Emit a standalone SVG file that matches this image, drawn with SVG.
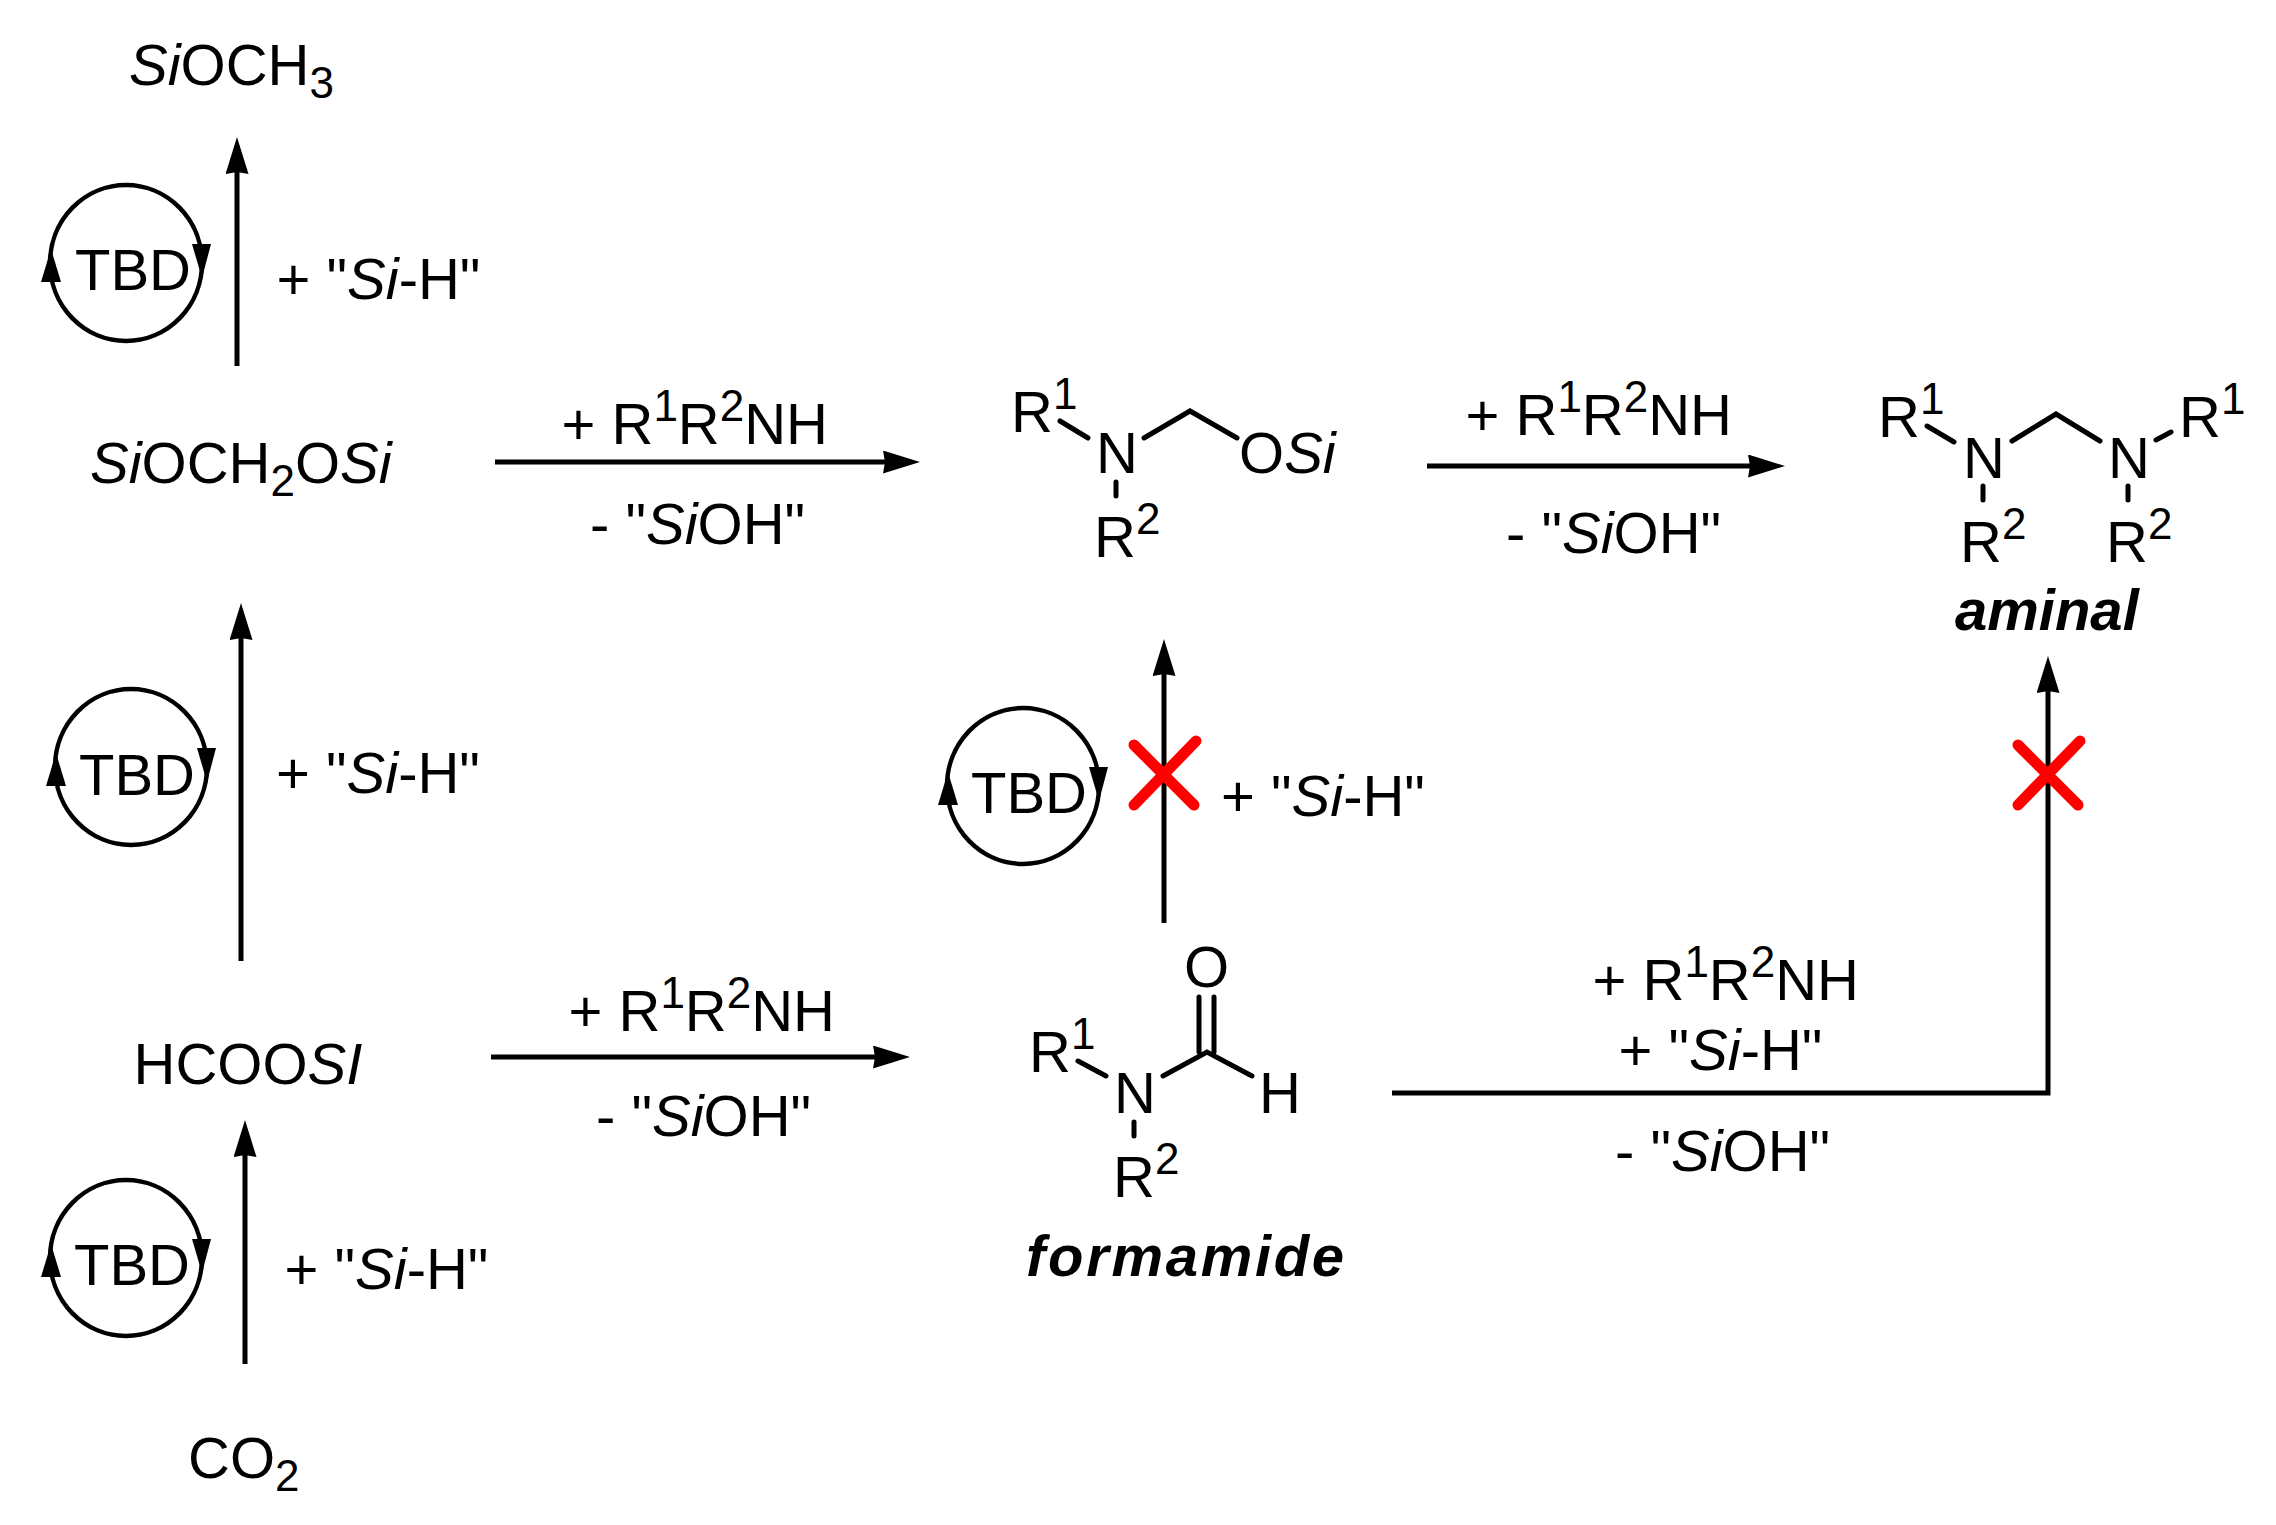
<svg xmlns="http://www.w3.org/2000/svg" width="2276" height="1525" viewBox="0 0 2276 1525">
<style>
text{font-family:"Liberation Sans",Arial,sans-serif;font-size:58px;fill:#000}
.b{font-weight:bold;font-style:italic;font-size:58px}
.i{font-style:italic}
.s{font-size:44px}
.c line,.c polyline{stroke:#000;stroke-width:5;fill:none}
.bond{stroke:#000;stroke-width:5;fill:none;stroke-linecap:round}
.ring{stroke:#000;stroke-width:4.5;fill:none}
.x{stroke:#f00;stroke-width:11;stroke-linecap:round;fill:none}
</style>
<defs>
<marker id="a" viewBox="0 0 37 23" refX="17" refY="11.5" markerWidth="37" markerHeight="23" markerUnits="userSpaceOnUse" orient="auto"><path d="M0 0L37 11.5L0 23L2 11.5Z" fill="#000"/></marker>
<g id="cyc"><ellipse class="ring" cx="0" cy="0" rx="76" ry="78"/><path d="M-75 -14L-65 19L-85 19Z" fill="#000"/><path d="M76 15L85 -19L66 -19Z" fill="#000"/></g>
</defs>
<g id="connectors" class="c">
<line x1="237" y1="366" x2="237" y2="157" marker-end="url(#a)"/>
<line x1="241" y1="961" x2="241" y2="623" marker-end="url(#a)"/>
<line x1="245" y1="1364" x2="245" y2="1140" marker-end="url(#a)"/>
<line x1="495" y1="462" x2="900" y2="462" marker-end="url(#a)"/>
<line x1="1427" y1="466" x2="1765" y2="466" marker-end="url(#a)"/>
<line x1="491" y1="1057" x2="890" y2="1057" marker-end="url(#a)"/>
<line x1="1164" y1="923" x2="1164" y2="659" marker-end="url(#a)"/>
<polyline points="1392,1093 2048,1093 2048,676" marker-end="url(#a)"/>
</g>
<g id="cross-1"><path class="x" d="M1134 745L1194 805M1196 741L1134 805"/></g>
<g id="cross-2"><path class="x" d="M2018 745L2078 805M2080 741L2018 805"/></g>
<g id="siocH3"><text x="129" y="85"><tspan class="i">Si</tspan>OCH<tspan class="s" dy="13">3</tspan></text></g>
<g id="tbd-1"><use href="#cyc" x="126" y="263"/><text x="75" y="290">TBD</text></g>
<g id="tbd-2"><use href="#cyc" x="131" y="767"/><text x="79" y="795">TBD</text></g>
<g id="tbd-3"><use href="#cyc" x="126" y="1258"/><text x="74" y="1285">TBD</text></g>
<g id="tbd-4"><use href="#cyc" x="1023" y="786"/><text x="971" y="813">TBD</text></g>
<g id="sih-labels">
<text x="276.500" y="299">+ "<tspan class="i">Si</tspan>-H"</text>
<text x="276" y="793">+ "<tspan class="i">Si</tspan>-H"</text>
<text x="284.500" y="1289">+ "<tspan class="i">Si</tspan>-H"</text>
<text x="1221" y="816">+ "<tspan class="i">Si</tspan>-H"</text>
</g>
<g id="siocH2osi"><text x="90" y="483"><tspan class="i">Si</tspan>OCH<tspan class="s" dy="13">2</tspan><tspan dy="-13">O</tspan><tspan class="i">Si</tspan></text></g>
<g id="hcoosi"><text x="133.500" y="1084">HCOO<tspan class="i">SI</tspan></text></g>
<g id="co2"><text x="188" y="1478">CO<tspan class="s" dy="13">2</tspan></text></g>
<g id="rxn-labels">
<text x="561.500" y="444">+ R<tspan class="s" dy="-23">1</tspan><tspan dy="23">R</tspan><tspan class="s" dy="-23">2</tspan><tspan dy="23">NH</tspan></text>
<text x="590" y="544">- "<tspan class="i">Si</tspan>OH"</text>
<text x="1465.500" y="435">+ R<tspan class="s" dy="-23">1</tspan><tspan dy="23">R</tspan><tspan class="s" dy="-23">2</tspan><tspan dy="23">NH</tspan></text>
<text x="1506" y="553">- "<tspan class="i">Si</tspan>OH"</text>
<text x="568.500" y="1031">+ R<tspan class="s" dy="-23">1</tspan><tspan dy="23">R</tspan><tspan class="s" dy="-23">2</tspan><tspan dy="23">NH</tspan></text>
<text x="596" y="1136">- "<tspan class="i">Si</tspan>OH"</text>
<text x="1592.500" y="1000">+ R<tspan class="s" dy="-23">1</tspan><tspan dy="23">R</tspan><tspan class="s" dy="-23">2</tspan><tspan dy="23">NH</tspan></text>
<text x="1618.500" y="1070">+ "<tspan class="i">Si</tspan>-H"</text>
<text x="1615" y="1171">- "<tspan class="i">Si</tspan>OH"</text>
</g>
<g id="hemiaminal">
<path class="bond" d="M1060 421L1088 438M1144 438L1190 411L1237 438M1116 482V496"/>
<text x="1011" y="432">R<tspan class="s" dy="-23">1</tspan></text>
<text x="1096" y="473">N</text>
<text x="1094" y="557">R<tspan class="s" dy="-23">2</tspan></text>
<text x="1239" y="473">O<tspan class="i">Si</tspan></text>
</g>
<g id="aminal">
<path class="bond" d="M1927 426L1954 442M2012 441L2056 414L2100 441M2156 440L2171 432M1983 486V500M2128 486V500"/>
<text x="1878" y="437">R<tspan class="s" dy="-23">1</tspan></text>
<text x="1963" y="478">N</text>
<text x="1960" y="562">R<tspan class="s" dy="-23">2</tspan></text>
<text x="2108" y="478">N</text>
<text x="2106" y="562">R<tspan class="s" dy="-23">2</tspan></text>
<text x="2179" y="437">R<tspan class="s" dy="-23">1</tspan></text>
<text class="b" x="1955" y="630">aminal</text>
</g>
<g id="formamide">
<path class="bond" d="M1078 1061L1106 1076M1163 1076L1207 1052L1252 1076M1134 1122V1136"/>
<path class="bond" d="M1199 997V1052M1214 997V1052"/>
<text x="1184" y="987">O</text>
<text x="1029" y="1072">R<tspan class="s" dy="-23">1</tspan></text>
<text x="1114" y="1113">N</text>
<text x="1113" y="1197">R<tspan class="s" dy="-23">2</tspan></text>
<text x="1259" y="1113">H</text>
<text class="b" x="1026" y="1276" letter-spacing="2.700">formamide</text>
</g>
</svg>
